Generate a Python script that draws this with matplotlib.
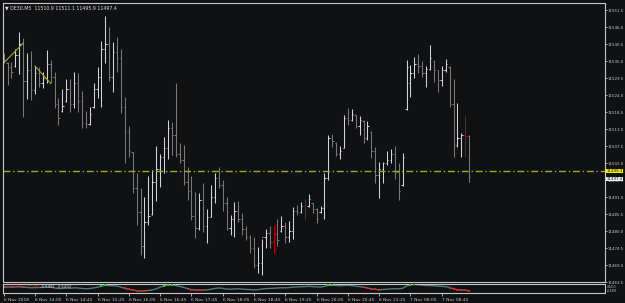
import numpy as np
import matplotlib
matplotlib.use("Agg")
import matplotlib.pyplot as plt

# ---- data (DE30, M5) ----
highs = [11537.6, 11534.7, 11534.7, 11538.9, 11544.4, 11542.4, 11537.6, 11538.2, 11533.4, 11533.1,
         11531.4, 11538.6, 11535.3, 11531.4, 11523.0, 11525.9, 11529.2, 11529.2, 11531.4, 11531.1,
         11525.3, 11518.8, 11520.1, 11527.9, 11533.1, 11541.5, 11549.6, 11546.0, 11541.1, 11542.8,
         11538.9, 11523.4, 11514.0, 11505.6, 11498.8, 11493.9, 11491.0, 11497.8, 11499.7, 11507.5,
         11504.9, 11510.4, 11515.9, 11515.3, 11527.9, 11508.5, 11507.8, 11500.7, 11497.8, 11492.6,
         11492.3, 11495.5, 11487.1, 11494.9, 11498.8, 11500.7, 11496.5, 11491.0, 11485.2, 11489.4,
         11489.7, 11485.8, 11481.6, 11478.7, 11478.1, 11474.8, 11477.4, 11480.6, 11481.6, 11481.9,
         11483.9, 11484.8, 11482.9, 11483.2, 11487.8, 11488.4, 11489.4, 11490.3, 11492.0, 11489.0,
         11487.4, 11488.1, 11498.8, 11511.1, 11511.4, 11508.8, 11507.5, 11517.5, 11519.8, 11519.5,
         11517.5, 11517.2, 11515.9, 11515.6, 11512.4, 11507.2, 11502.3, 11502.3, 11505.9, 11506.5,
         11507.5, 11502.0, 11505.2, 11535.3, 11533.7, 11536.3, 11537.3, 11535.0, 11533.4, 11540.2,
         11535.3, 11532.1, 11533.4, 11535.6, 11533.4, 11529.2, 11521.4, 11511.7, 11517.2, 11511.1]
lows = [11534.4, 11527.2, 11529.5, 11533.1, 11530.8, 11516.9, 11522.7, 11522.4, 11524.3, 11526.6,
        11526.3, 11527.9, 11527.9, 11519.8, 11514.3, 11518.5, 11521.7, 11518.5, 11519.8, 11518.5,
        11513.3, 11513.3, 11514.3, 11519.8, 11523.0, 11520.1, 11534.4, 11528.5, 11525.0, 11531.4,
        11518.2, 11502.0, 11503.9, 11492.3, 11481.9, 11472.2, 11471.3, 11481.9, 11485.2, 11489.7,
        11494.2, 11498.8, 11503.3, 11504.6, 11503.9, 11502.0, 11494.9, 11490.0, 11483.6, 11477.7,
        11480.3, 11479.7, 11476.1, 11484.5, 11489.0, 11493.9, 11486.5, 11480.3, 11478.7, 11478.1,
        11482.9, 11478.7, 11477.1, 11472.9, 11468.0, 11466.4, 11465.8, 11474.5, 11474.5, 11472.9,
        11475.1, 11479.7, 11476.1, 11476.4, 11477.4, 11485.2, 11485.8, 11483.6, 11487.8, 11485.8,
        11482.6, 11485.8, 11483.9, 11496.5, 11507.2, 11504.3, 11503.3, 11506.9, 11514.3, 11515.6,
        11513.3, 11511.1, 11508.5, 11509.4, 11503.6, 11495.5, 11490.7, 11495.5, 11501.3, 11502.0,
        11496.8, 11490.0, 11494.5, 11519.1, 11523.4, 11529.5, 11531.1, 11529.8, 11526.6, 11532.1,
        11528.2, 11525.0, 11526.9, 11531.4, 11520.1, 11503.9, 11507.2, 11503.9, 11503.9, 11495.9]
opens = [11536.5, 11534.5, 11533.0, 11533.5, 11537.0, 11540.5, 11528.5, 11532.0, 11525.5, 11531.0,
         11528.0, 11529.5, 11534.0, 11530.0, 11521.0, 11519.0, 11522.0, 11526.0, 11521.0, 11528.0,
         11522.0, 11515.0, 11514.5, 11520.0, 11526.0, 11530.0, 11539.0, 11540.5, 11530.0, 11538.0,
         11536.0, 11520.0, 11512.0, 11505.5, 11494.0, 11486.0, 11475.0, 11483.0, 11485.5, 11496.0,
         11500.0, 11504.0, 11507.0, 11513.5, 11511.0, 11505.0, 11503.0, 11496.0, 11493.0, 11485.0,
         11481.0, 11490.0, 11481.5, 11484.5, 11491.0, 11497.0, 11495.0, 11489.0, 11481.0, 11484.0,
         11486.5, 11484.0, 11480.5, 11478.0, 11474.5, 11469.0, 11469.5, 11478.0, 11479.5, 11476.5,
         11479.0, 11480.0, 11481.5, 11478.0, 11480.0, 11486.5, 11486.0, 11488.0, 11488.0, 11489.0,
         11487.0, 11486.0, 11487.5, 11497.0, 11510.0, 11508.5, 11505.0, 11507.0, 11516.5, 11516.0,
         11517.5, 11514.0, 11515.5, 11510.0, 11512.0, 11506.0, 11498.0, 11500.0, 11502.0, 11503.0,
         11505.0, 11499.0, 11495.0, 11519.5, 11528.0, 11531.0, 11534.0, 11533.5, 11531.0, 11532.5,
         11535.0, 11532.0, 11529.0, 11532.0, 11533.0, 11521.0, 11508.0, 11510.0, 11511.0, 11510.9]
closes = [11535.5, 11533.0, 11531.5, 11537.0, 11540.5, 11528.5, 11532.0, 11525.5, 11531.0, 11528.0,
          11529.5, 11534.0, 11530.0, 11521.0, 11516.5, 11520.5, 11526.0, 11521.0, 11528.0, 11522.0,
          11515.0, 11514.5, 11518.0, 11526.0, 11530.0, 11539.0, 11540.5, 11530.0, 11538.0, 11536.0,
          11520.0, 11512.0, 11506.0, 11494.0, 11486.0, 11475.0, 11483.0, 11485.0, 11496.0, 11500.0,
          11504.0, 11507.0, 11513.5, 11511.0, 11505.0, 11503.0, 11496.0, 11493.0, 11485.0, 11481.0,
          11490.0, 11481.5, 11484.5, 11491.0, 11497.0, 11495.0, 11489.0, 11481.0, 11484.0, 11486.5,
          11484.0, 11480.5, 11478.0, 11474.5, 11469.0, 11469.5, 11478.0, 11479.5, 11476.5, 11479.0,
          11477.0, 11481.5, 11478.0, 11480.0, 11486.5, 11486.0, 11488.0, 11487.0, 11490.5, 11487.0,
          11484.0, 11487.5, 11497.0, 11510.0, 11509.0, 11505.0, 11506.0, 11516.5, 11516.0, 11518.0,
          11514.0, 11516.0, 11510.0, 11514.0, 11506.0, 11498.0, 11500.0, 11502.0, 11503.0, 11505.0,
          11499.0, 11493.0, 11504.0, 11533.0, 11531.0, 11534.0, 11533.5, 11531.0, 11532.5, 11536.0,
          11532.0, 11529.0, 11532.0, 11534.0, 11521.0, 11508.0, 11510.0, 11511.0, 11510.9, 11497.4]
red_bars = [69, 77, 118]

osc = [0.5, 0.8, 0.6, 0.9, 1.2, 0.4, 0.2, -0.3, 0.0, 0.1,
       0.2, 0.6, 0.4, -0.5, -1.2, -1.0, -0.6, -0.8, -0.3, -0.5,
       -1.0, -1.4, -1.2, -0.4, 0.5, 1.8, 2.8, 2.5, 2.2, 1.8,
       0.5, -1.0, -2.0, -3.0, -3.8, -4.2, -4.0, -3.5, -2.8, -1.5,
       0.5, 2.0, 3.0, 3.2, 2.6, 1.5, 0.2, -1.2, -2.5, -3.0,
       -3.2, -3.0, -2.8, -2.0, -1.0, -0.5, -1.0, -1.8, -2.0, -1.6,
       -1.5, -1.8, -2.2, -2.5, -2.8, -2.6, -1.8, -1.2, -1.0, -0.8,
       -0.5, -0.2, -0.3, 0.0, 0.5, 0.8, 1.0, 1.2, 1.5, 1.2,
       0.8, 0.6, 1.5, 2.8, 3.0, 2.5, 2.2, 2.6, 2.8, 2.4,
       1.8, 1.2, 0.5, -0.5, -1.5, -2.2, -2.5, -2.3, -2.0, -1.5,
       -1.3, -1.5, -0.8, 2.0, 3.5, 3.8, 3.5, 3.0, 2.6, 2.5,
       2.2, 1.8, 1.5, 1.2, 0.0, -1.5, -2.5, -3.0, -3.3, -3.8]
green_idx = [25, 26, 41, 42, 43, 83, 84, 104, 105]
red_idx = [31, 32, 33, 34, 35, 36, 48, 49, 50, 51, 93, 94, 95, 96, 114, 115, 116, 117, 118, 119]

price_ticks = [11463.5 + 5.5 * k for k in range(17)]
time_idx = [0, 8, 16, 24, 32, 40, 48, 56, 64, 72, 80, 88, 96, 104, 112]
time_labels = ["6 Nov 2018", "6 Nov 14:05", "6 Nov 14:45", "6 Nov 15:25", "6 Nov 16:05",
               "6 Nov 16:45", "6 Nov 17:25", "6 Nov 18:05", "6 Nov 18:45", "6 Nov 19:25",
               "6 Nov 20:05", "6 Nov 20:45", "6 Nov 21:25", "7 Nov 08:05", "7 Nov 08:45"]
bid_price = 11499.3
last_price = 11497.4
header = "\u25BC DE30,M5  11510.9 11511.1 11495.9 11497.4"
trend1 = ([0, 5], [11534.4, 11540.8])
trend2 = ([8, 12], [11533.4, 11527.8])

# ---- style ----
BG = "#101113"
FG = "#c8c8c8"
UP = "#d4d4dc"
DN = "#787878"
RED = "#c00000"
OLIVE = "#a6a622"

W, H = 625, 303
fig = plt.figure(figsize=(W / 100, H / 100), dpi=100, facecolor=BG)
ax = fig.add_axes([2.5 / W, 1 - 282 / H, 602 / W, 279 / H], facecolor=BG)
sub = fig.add_axes([2.5 / W, 1 - 292.5 / H, 602 / W, 9 / H], facecolor=BG, sharex=ax)

x = np.arange(len(closes))
o = np.array(opens); c = np.array(closes); hi = np.array(highs); lo = np.array(lows)
cols = [UP if c[i] >= o[i] else DN for i in range(len(c))]
for i in red_bars:
    cols[i] = RED
ax.vlines(x, lo, hi, colors=cols, linewidth=0.75)
ax.hlines(o, x - 0.33, x, colors=cols, linewidth=0.75)
ax.hlines(c, x, x + 0.33, colors=cols, linewidth=0.75)

ax.plot(*trend1, color=OLIVE, lw=0.8)
ax.plot(*trend2, color=OLIVE, lw=0.8)
ax.axhline(bid_price, color=OLIVE, lw=1.0, dashes=(5, 2, 1, 2))

xmax = 153.6
ax.set_xlim(-0.3, xmax)
ax.set_ylim(11463.5, 11553.8)
ax.yaxis.tick_right()
ax.set_yticks(price_ticks)
ax.set_yticklabels([f"{p:.1f}" for p in price_ticks])
ax.tick_params(axis="y", colors=FG, labelsize=2.9, length=1.5, width=0.6, pad=0.8)
ax.tick_params(axis="x", bottom=False, labelbottom=False)
for s in ax.spines.values():
    s.set_color(FG); s.set_linewidth(0.8)

ax.text(0.004, 0.99, header, transform=ax.transAxes, color="#e0e0e0", fontsize=3.4,
        va="top", ha="left")
ax.text(1.003, bid_price + 0.2, "11499.3", transform=ax.get_yaxis_transform(), fontsize=2.9,
        va="center", ha="left", color="#101010",
        bbox=dict(boxstyle="square,pad=0.05", fc="#f0f000", ec="none"))
ax.text(1.003, last_price - 0.6, "11497.4", transform=ax.get_yaxis_transform(), fontsize=2.9,
        va="center", ha="left", color="#101010",
        bbox=dict(boxstyle="square,pad=0.05", fc="#f0f0f0", ec="none"))

# sub window
sub.plot(x, osc, color="#4f7a78", lw=1.0)
sub.scatter([x[i] for i in green_idx], [osc[i] for i in green_idx], marker="s", s=2.5,
            color="#20d020", zorder=3, linewidths=0)
sub.scatter([x[i] for i in red_idx], [osc[i] for i in red_idx], marker="s", s=2.5,
            color="#ff1010", zorder=3, linewidths=0)
sub.set_ylim(-6, 5)
sub.yaxis.tick_right()
sub.set_yticks([])
for s in sub.spines.values():
    s.set_color(FG); s.set_linewidth(0.8)
sub.text(0.003, 0.85, "osma color (7,30)", transform=sub.transAxes, color="#ff3030",
         fontsize=2.8, va="top", ha="left")
sub.text(0.062, 0.85, "-4.6491 -4.6492", transform=sub.transAxes, color="#e0e0e0",
         fontsize=2.8, va="top", ha="left")
sub.text(1.004, 0.62, "4.9413", transform=sub.transAxes, color=FG, fontsize=2.0, va="center")
sub.text(1.004, 0.12, "-4.6491", transform=sub.transAxes, color=FG, fontsize=2.0, va="center")

sub.set_xticks(time_idx)
sub.set_xticklabels(time_labels)
sub.tick_params(axis="x", colors=FG, labelsize=3.2, length=2.5, width=0.6, pad=1.5)
for lab in sub.get_xticklabels():
    lab.set_ha("left")

fig.savefig("out.png", dpi=100, facecolor=BG)
